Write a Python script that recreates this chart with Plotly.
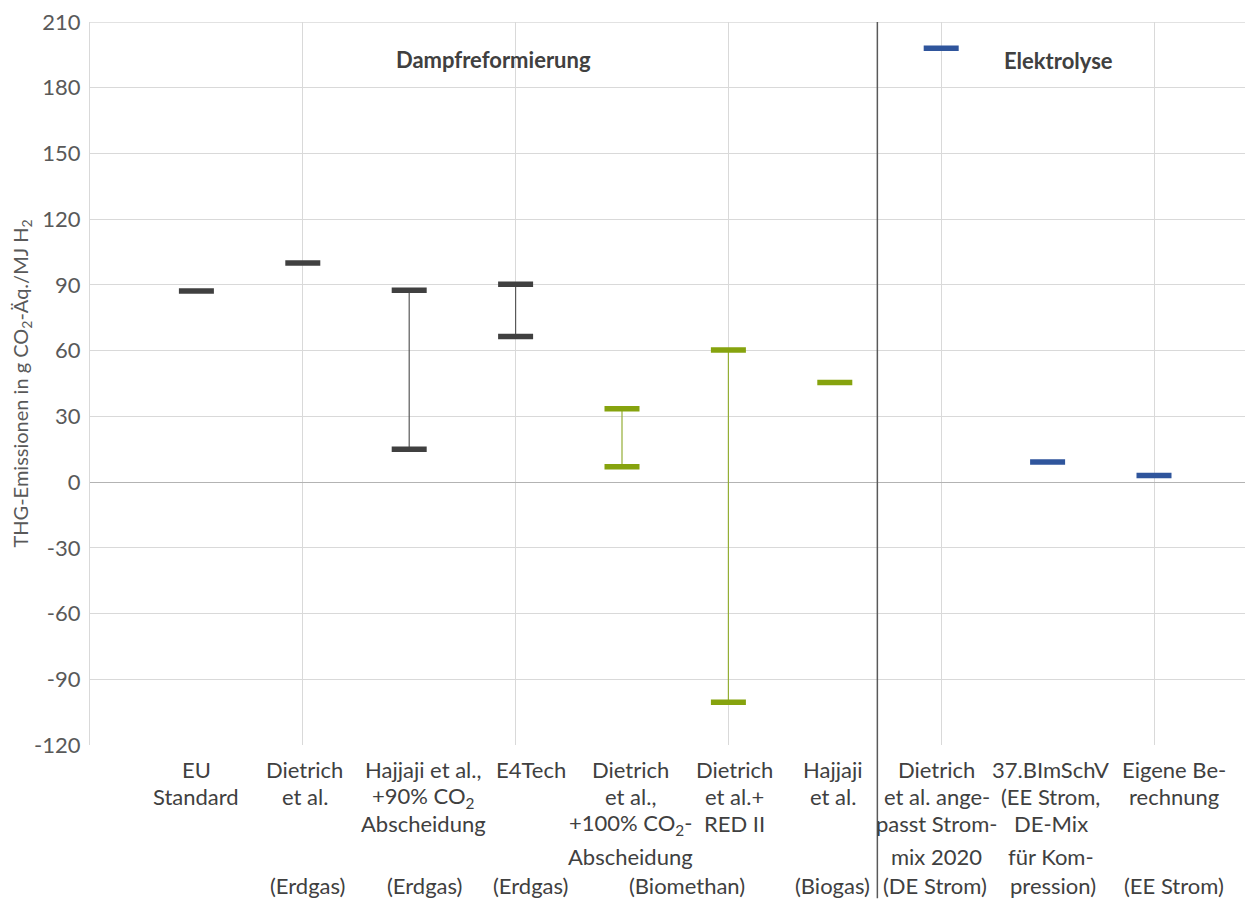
import plotly.graph_objects as go

# ---------------- data ----------------
categories = ["EU Standard", "Dietrich et al. (Erdgas)", "Hajjaji et al., +90% CO2 Abscheidung (Erdgas)",
              "E4Tech (Erdgas)", "Dietrich et al., +100% CO2-Abscheidung (Biomethan)",
              "Dietrich et al.+ RED II (Biomethan)", "Hajjaji et al. (Biogas)",
              "Dietrich et al. angepasst Strommix 2020 (DE Strom)",
              "37.BImSchV (EE Strom, DE-Mix für Kompression)", "Eigene Berechnung (EE Strom)"]
group = ["fossil", "fossil", "fossil", "fossil", "bio", "bio", "bio", "elec", "elec", "elec"]
value_low = [87.2, 100.0, 15.0, 66.5, 7.0, -100.5, 45.4, 198.0, 9.2, 3.0]
value_high = [None, None, 87.6, 90.3, 33.5, 60.3, None, None, None, None]

label_lines = [
    ["EU", "Standard", "", ""],
    ["Dietrich", "et al.", "", ""],
    ["Hajjaji et al.,", "+90% CO<sub>2</sub>", "Abscheidung", ""],
    ["E4Tech", "", "", ""],
    ["Dietrich", "et al.,", "+100% CO<sub>2</sub>-", "Abscheidung"],
    ["Dietrich", "et al.+", "RED II", ""],
    ["Hajjaji", "et al.", "", ""],
    ["Dietrich", "et al. ange-", "passt Strom-", "mix 2020"],
    ["37.BImSchV", "(EE Strom,", "DE-Mix", "für Kom-"],
    ["Eigene Be-", "rechnung", "", ""],
]
source_labels = ["(Erdgas)", "(Erdgas)", "(Erdgas)", "(Biomethan)", "(Biogas)",
                 "(DE Strom)", "pression)", "(EE Strom)"]
group_titles = ["Dampfreformierung", "Elektrolyse"]
y_ticks = [-120, -90, -60, -30, 0, 30, 60, 90, 120, 150, 180, 210]
y_tick_text = ["-120", "-90", "-60", "-30", "0", "30", "60", "90", "120", "150", "180", "210"]

# ---------------- layout constants ----------------
OFF = 8                            # page body margin of the html page
W, H = 1253 - OFF, 899 - OFF
PL, PT, PB = 90 - OFF, 19 - OFF, 745 - OFF   # plot area pixel edges (figure coords)
label_x = [1.0, 2.02, 3.13, 4.14, 5.08, 6.06, 6.98, 7.96, 9.03, 10.19]
source_x = [2.04, 3.14, 4.14, 5.61, 6.98, 7.94, 9.05, 10.19]
row_px = [770, 797, 824, 857]
source_px = 886
group_title_x = [3.79, 9.10]
group_title_px = [57, 58]
separator_x = 7.4
UNIT = 106.4                       # pixels per x unit

colors = {"fossil": "#404040", "bio": "#86A30E", "elec": "#2F559C"}
line_colors = {"fossil": "#595959", "bio": "#94AE35", "elec": "#2F559C"}
FONT = "Lato, Calibri, Carlito, sans-serif"
FS = 22


def py(px_page):
    return (PB - (px_page - OFF)) / (PB - PT)


fig = go.Figure()

xs = list(range(1, len(categories) + 1))

# connecting lines (range)
for g in ["fossil", "bio", "elec"]:
    lx, ly = [], []
    for i, (lo, hi) in enumerate(zip(value_low, value_high)):
        if group[i] == g and hi is not None:
            lx += [xs[i], xs[i], None]
            ly += [lo, hi, None]
    if lx:
        fig.add_trace(go.Scatter(x=lx, y=ly, mode="lines",
                                 line=dict(color=line_colors[g], width=1.2),
                                 hoverinfo="skip", showlegend=False))

# dash markers
for g in ["fossil", "bio", "elec"]:
    mx, my = [], []
    for i in range(len(categories)):
        if group[i] == g:
            mx.append(xs[i]); my.append(value_low[i])
            if value_high[i] is not None:
                mx.append(xs[i]); my.append(value_high[i])
    fig.add_trace(go.Scatter(x=mx, y=my, mode="markers",
                             marker=dict(symbol="line-ew", size=25,
                                         line=dict(color=colors[g], width=5.5)),
                             showlegend=False))

annotations = []
for i, lines in enumerate(label_lines):
    for r, txt in enumerate(lines):
        if txt:
            annotations.append(dict(x=label_x[i], y=py(row_px[r]), xref="x", yref="paper",
                                    text=txt, showarrow=False, xanchor="center", yanchor="middle",
                                    font=dict(family=FONT, size=FS, color="#404040")))
for sx, txt in zip(source_x, source_labels):
    annotations.append(dict(x=sx, y=py(source_px), xref="x", yref="paper", text=txt,
                            showarrow=False, xanchor="center", yanchor="middle",
                            font=dict(family=FONT, size=FS, color="#404040")))
for gx, gp, txt in zip(group_title_x, group_title_px, group_titles):
    annotations.append(dict(x=gx, y=py(gp), xref="x", yref="paper", text="<b>" + txt + "</b>",
                            showarrow=False, xanchor="center", yanchor="middle",
                            font=dict(family=FONT, size=FS, color="#404040")))
annotations.append(dict(x=0, y=0.5, xref="paper", yref="paper",
                        text="THG-Emissionen in g CO<sub>2</sub>-Äq./MJ H<sub>2</sub>",
                        textangle=-90, showarrow=False, xanchor="center", yanchor="middle",
                        xshift=-(PL - 13),
                        font=dict(family=FONT, size=20, color="#595959")))

fig.update_layout(
    width=W, height=H, autosize=False,
    margin=dict(l=PL, r=0, t=PT, b=H - PB, pad=0),
    paper_bgcolor="white", plot_bgcolor="white",
    showlegend=False,
    annotations=annotations,
    shapes=[dict(type="line", xref="x", yref="paper", x0=separator_x, x1=separator_x,
                 y0=py(899), y1=1, line=dict(color="#595959", width=1.5), layer="above"),
            dict(type="line", xref="paper", yref="y", x0=0, x1=1, y0=210, y1=210,
                 line=dict(color="#D9D9D9", width=1.3), layer="below")],
    xaxis=dict(range=[0, (W - PL) / UNIT], tickvals=[0, 2, 4, 6, 8, 10], showticklabels=False,
               showgrid=True, gridcolor="#D9D9D9", gridwidth=1.3, zeroline=False,
               showline=False, ticks=""),
    yaxis=dict(range=[-120.02, 210.02], tickvals=y_ticks, ticktext=y_tick_text,
               showgrid=True, gridcolor="#D9D9D9", ticklabeloverflow="allow",
               gridwidth=1.3, zeroline=True, zerolinecolor="#B3B3B3", zerolinewidth=1.3,
               showline=True, linecolor="#D9D9D9", linewidth=1.3, ticks="",
               ticklabelstandoff=4,
               tickfont=dict(family=FONT, size=FS, color="#595959")),
)

fig.write_html("out.html")
